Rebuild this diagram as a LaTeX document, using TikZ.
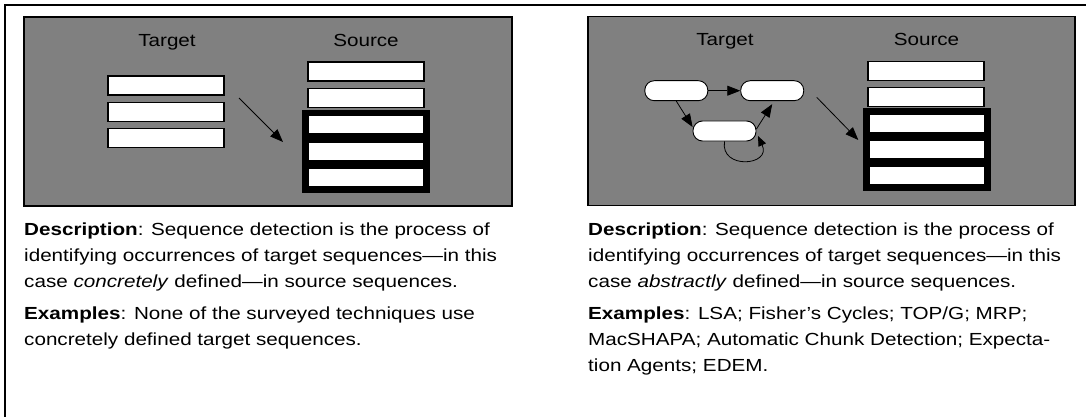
\documentclass[tikz,border=0pt]{standalone}
\usepackage{fontspec}
\setmainfont{Liberation Sans}[FakeStretch=1.18]
\usetikzlibrary{arrows.meta}
\definecolor{panelgray}{HTML}{808080}
\tikzset{
  panel/.style={draw=black, line width=1.6pt, fill=panelgray},
  seqbox/.style={draw=black, line width=1.2pt, fill=white, minimum width=116pt, minimum height=19pt, inner sep=0pt},
  hitblock/.style={fill=black, draw=none, minimum width=128pt, minimum height=83pt, inner sep=0pt},
  hitbox/.style={fill=white, draw=none, minimum width=114pt, minimum height=17pt, inner sep=0pt},
  state/.style={draw=black, line width=0.9pt, fill=white, rounded corners=9.5pt, minimum width=63pt, minimum height=20pt, inner sep=0pt},
  title/.style={font=\fontsize{17.5}{21}\selectfont, inner sep=0pt, anchor=base},
  txt/.style={font=\fontsize{17.5}{26}\selectfont, anchor=base west, inner sep=0pt},
  flow/.style={line width=0.8pt, -{Triangle[length=13pt,width=10pt]}},
  loopflow/.style={line width=0.8pt, -{Triangle[length=10pt,width=8pt]}}
}
\begin{document}
\begin{tikzpicture}[x=1pt,y=-1pt]
\useasboundingbox (0,0) rectangle (1086,417);
% outer frame (top and left)
\draw[line width=1.5pt] (5,417) -- (5,5) -- (1086,5);

% ===== left panel =====
\node[panel, minimum width=488pt, minimum height=189pt, inner sep=0pt] (panelL) at (268,111.5) {};
\node[title] (tgtL) at (167,47) {Target};
\node[title] (srcL) at (366,47) {Source};
\node[seqbox] (t1) at (166,85.5) {};
\node[seqbox] (t2) at (166,112) {};
\node[seqbox] (t3) at (166,138.2) {};
\node[seqbox] (s1) at (366,71.5) {};
\node[seqbox] (s2) at (366,98) {};
\node[hitblock] (hL) at (366,151.3) {};
\node[hitbox] (h1) at (366,124.4) {};
\node[hitbox] (h2) at (366,151.3) {};
\node[hitbox] (h3) at (366,177.2) {};
\coordinate (aL1) at (239,98);
\coordinate (aL2) at (283,142);
\draw[flow] (aL1) -- (aL2);

% ===== right panel =====
\node[panel, minimum width=487pt, minimum height=189pt, inner sep=0pt] (panelR) at (831.5,111) {};
\node[title] (tgtR) at (725,46) {Target};
\node[title] (srcR) at (926.5,46) {Source};
\node[state] (A) at (676.3,90.7) {};
\node[state] (B) at (772.2,90.7) {};
\node[state] (C) at (724.5,131) {};
\draw[flow] (A) -- (B);
\draw[flow] (A.south) -- ([yshift=4pt]C.west);
\draw[flow] ([yshift=2pt]C.east) -- ([yshift=-3pt]B.south);
\coordinate (loopend) at (758,136);
\draw[loopflow] (C.south) .. controls (720,170) and (772,166) .. (loopend);
\node[seqbox] (r1) at (926,70.7) {};
\node[seqbox] (r2) at (926,96.7) {};
\node[hitblock] (hR) at (926.5,149.7) {};
\node[hitbox] (g1) at (926.5,123.4) {};
\node[hitbox] (g2) at (926.5,149.7) {};
\node[hitbox] (g3) at (926.5,175.8) {};
\coordinate (aR1) at (816.7,97.3);
\coordinate (aR2) at (858.3,140);
\draw[flow] (aR1) -- (aR2);

% ===== texts =====
\node[txt] (dL1) at (24,235) {\textbf{Description}: Sequence detection is the process of};
\node[txt] (dL2) at (24,261) {identifying occurrences of target sequences—in this};
\node[txt] (dL3) at (24,287) {case \textit{concretely} defined—in source sequences.};
\node[txt] (eL1) at (24,319) {\textbf{Examples}: None of the surveyed techniques use};
\node[txt] (eL2) at (24,345) {concretely defined target sequences.};

\node[txt] (dR1) at (588,235) {\textbf{Description}: Sequence detection is the process of};
\node[txt] (dR2) at (588,261) {identifying occurrences of target sequences—in this};
\node[txt] (dR3) at (588,287) {case \textit{abstractly} defined—in source sequences.};
\node[txt] (eR1) at (588,319) {\textbf{Examples}: LSA; Fisher’s Cycles; TOP/G; MRP;};
\node[txt] (eR2) at (588,345) {MacSHAPA; Automatic Chunk Detection; Expecta-};
\node[txt] (eR3) at (588,371) {tion Agents; EDEM.};
\end{tikzpicture}
\end{document}
